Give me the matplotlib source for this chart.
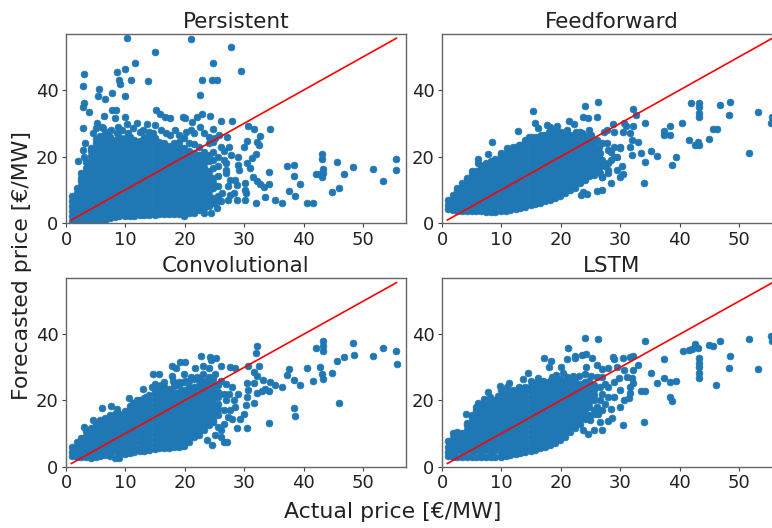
import numpy as np
import matplotlib
matplotlib.use('Agg')
import matplotlib.pyplot as plt

# linha de referencia y = x
line_x = [0.9, 55.6]
line_y = [0.9, 55.6]
x_ticks = [0, 10, 20, 30, 40, 50]
y_ticks = [0, 20, 40]
titles = ['Persistent', 'Feedforward', 'Convolutional', 'LSTM']

# miolo denso de cada painel, coluna a coluna
persistent_core_x = [1.0, 1.8, 2.6, 3.4, 4.2, 5.0, 5.8, 6.6, 7.4, 8.2, 9.0, 9.9, 10.7, 11.5, 12.4, 13.2, 14.0, 14.9, 15.7, 16.5, 17.4, 18.2, 19.0, 19.9, 20.7, 21.5, 22.3, 23.2, 24.0, 24.8, 25.6]
persistent_core_y = [
    [0.6, 2.0, 3.5, 5.0, 6.5, 8.0],
    [0.7, 1.5, 3.0, 4.5, 6.0, 7.5, 9.0, 10.5],
    [0.6, 2.2, 3.7, 5.2, 6.7, 8.2, 9.7, 11.2, 12.7, 13.5],
    [0.6, 1.5, 3.0, 4.5, 6.0, 7.5, 9.0, 10.5, 12.0, 13.5, 15.0, 16.5, 18.2],
    [0.7, 2.2, 3.7, 5.2, 6.7, 8.2, 9.7, 11.2, 12.7, 14.2, 15.7, 17.2, 18.7, 20.2, 21.7, 22.5],
    [0.7, 1.5, 3.0, 4.5, 6.0, 7.5, 9.0, 10.5, 12.0, 13.5, 15.0, 16.5, 18.0, 19.5, 21.0, 22.5, 24.0, 25.2],
    [0.8, 2.2, 3.7, 5.2, 6.7, 8.2, 9.7, 11.2, 12.7, 14.2, 15.7, 17.2, 18.7, 20.2, 21.7, 23.2, 24.7, 26.2],
    [0.8, 1.5, 3.0, 4.5, 6.0, 7.5, 9.0, 10.5, 12.0, 13.5, 15.0, 16.5, 18.0, 19.5, 21.0, 22.5, 24.0, 25.5, 26.8],
    [1.6, 2.2, 3.7, 5.2, 6.7, 8.2, 9.7, 11.2, 12.7, 14.2, 15.7, 17.2, 18.7, 20.2, 21.7, 23.2, 24.7, 26.0],
    [1.8, 3.0, 4.5, 6.0, 7.5, 9.0, 10.5, 12.0, 13.5, 15.0, 16.5, 18.0, 19.5, 21.0, 22.5, 24.0, 25.0],
    [2.0, 3.7, 5.2, 6.7, 8.2, 9.7, 11.2, 12.7, 14.2, 15.7, 17.2, 18.7, 20.2, 21.7, 23.2, 24.7, 26.0],
    [2.1, 3.0, 4.5, 6.0, 7.5, 9.0, 10.5, 12.0, 13.5, 15.0, 16.5, 18.0, 19.5, 21.0, 22.5, 24.0, 25.5],
    [2.2, 3.7, 5.2, 6.7, 8.2, 9.7, 11.2, 12.7, 14.2, 15.7, 17.2, 18.7, 20.2, 21.7, 23.2, 24.7, 26.0],
    [2.2, 3.0, 4.5, 6.0, 7.5, 9.0, 10.5, 12.0, 13.5, 15.0, 16.5, 18.0, 19.5, 21.0, 22.5, 24.0, 25.0],
    [2.4, 3.7, 5.2, 6.7, 8.2, 9.7, 11.2, 12.7, 14.2, 15.7, 17.2, 18.7, 20.2, 21.7, 23.2, 24.7],
    [2.5, 3.0, 4.5, 6.0, 7.5, 9.0, 10.5, 12.0, 13.5, 15.0, 16.5, 18.0, 19.5, 21.0, 22.5, 24.0, 25.8],
    [2.4, 3.7, 5.2, 6.7, 8.2, 9.7, 11.2, 12.7, 14.2, 15.7, 17.2, 18.7, 20.2, 21.7, 23.2, 24.7, 26.2],
    [2.5, 3.0, 4.5, 6.0, 7.5, 9.0, 10.5, 12.0, 13.5, 15.0, 16.5, 18.0, 19.5, 21.0, 22.5, 24.0, 25.5],
    [2.6, 3.7, 5.2, 6.7, 8.2, 9.7, 11.2, 12.7, 14.2, 15.7, 17.2, 18.7, 20.2, 21.7, 23.2, 24.5],
    [2.6, 3.0, 4.5, 6.0, 7.5, 9.0, 10.5, 12.0, 13.5, 15.0, 16.5, 18.0, 19.5, 21.0, 22.5, 24.0],
    [2.7, 3.7, 5.2, 6.7, 8.2, 9.7, 11.2, 12.7, 14.2, 15.7, 17.2, 18.7, 20.2, 21.7, 23.2],
    [2.6, 3.0, 4.5, 6.0, 7.5, 9.0, 10.5, 12.0, 13.5, 15.0, 16.5, 18.0, 19.5, 21.0, 22.5, 24.0],
    [2.6, 3.7, 5.2, 6.7, 8.2, 9.7, 11.2, 12.7, 14.2, 15.7, 17.2, 18.7, 20.2, 21.7, 23.2, 24.5],
    [2.2, 3.0, 4.5, 6.0, 7.5, 9.0, 10.5, 12.0, 13.5, 15.0, 16.5, 18.0, 19.5, 21.0, 22.5, 25.5],
    [3.0, 3.7, 5.2, 6.7, 8.2, 9.7, 11.2, 12.7, 14.2, 15.7, 17.2, 18.7, 20.2, 21.7, 24.2],
    [3.2, 4.5, 6.0, 7.5, 9.0, 10.5, 12.0, 13.5, 15.0, 16.5, 18.0, 19.5, 21.0, 23.8],
    [4.0, 5.2, 6.7, 8.2, 9.7, 11.2, 12.7, 14.2, 15.7, 17.2, 18.7, 20.5, 22.8],
    [4.5, 6.0, 7.5, 9.0, 10.5, 12.0, 13.5, 15.0, 16.5, 18.0, 19.5, 21.5],
    [5.2, 6.7, 8.2, 9.7, 11.2, 12.7, 14.2, 15.7, 18.7, 20.5, 24.0],
    [6.0, 7.5, 10.5, 12.0, 13.5, 16.5, 19.0, 21.5, 24.5],
    [6.7, 8.2, 11.2, 14.2, 17.0, 20.0],
]
# pontos soltos
persistent_x = [10.3, 21, 15, 27.7, 11.6, 24.8, 10, 8.5, 3, 29.5, 9, 10.9, 13.8, 22.8, 24.6, 25.4, 9.1, 2.8, 5.5, 5.3, 7.8, 10, 22.6, 6.5, 3, 2.9, 3.9, 7.8, 8.4, 15.2, 22.8, 24.2, 6.4, 15.8, 16.7, 17.5, 19.7, 20.1, 22, 26, 27.9, 21.2, 8.3, 9.9, 10.2, 13.6, 15, 12, 8.8, 2.9, 5.2, 6.3, 24.8, 30.7, 31.6, 34.3, 32.7, 27.1, 25.7, 30.5, 32.1, 30, 32.4, 27.5, 29, 32, 31.3, 26.5, 27.7, 30.5, 31, 28.9, 29.1, 27, 27, 27.6, 31.5, 32.1, 32.7, 33.3, 34.1, 34.1, 30.1, 28.8, 27.6, 30.1, 30.3, 30.1, 28.7, 32, 33.5, 35.2, 36.3, 37.5, 38.6, 39.3, 38.3, 38.4, 37.2, 40.5, 41.5, 42, 42.7, 43, 43.1, 43.3, 43.3, 43.1, 44.8, 45.6, 46, 46.7, 48.3, 51.7, 53.3, 55.6, 55.6, 21.5, 23.2, 24.4, 25.4,
                3.2, 4.5, 5, 6, 7, 7.6, 8.6, 9.5, 10.5, 11.2, 12.4, 13, 14, 14.6, 16, 16.8, 17.5, 18.4, 19, 20.2, 21, 21.6, 22.5, 23.3, 24, 25, 26, 26.5, 27, 27.3, 26.3, 26, 27.2, 28.2, 28.5, 2, 2.9, 2.5, 3.1]
persistent_y = [55.5, 55.3, 51.4, 53, 48.2, 48, 46.4, 45.3, 44.7, 45.7, 43, 43.1, 42.7, 42.9, 42.9, 42.9, 41.8, 41.1, 40.4, 38.2, 39.2, 38.1, 38.5, 37.2, 36.1, 35, 33.4, 34, 34, 33.9, 32.8, 32.3, 32.2, 32.8, 32, 31.5, 32, 31.5, 32, 30.6, 30.6, 30.3, 31.5, 31.8, 29.8, 29.8, 29.4, 30.2, 29, 28.6, 30, 28.5, 28.4, 29.2, 28.2, 28.4, 26.2, 25.8, 26.4, 24.8, 24.5, 23, 23.5, 23, 20, 20.8, 19.7, 21.8, 20.5, 18, 16.5, 17.5, 16, 18, 15, 13, 13.7, 12.7, 11.6, 10.9, 11.7, 15.2, 11.9, 11.4, 8.4, 9.9, 9.1, 6.9, 6.9, 5.9, 7.9, 6.9, 5.9, 9.5, 8.1, 11.7, 14.2, 17.5, 17, 5.9, 5.9, 14.7, 14.7, 20.7, 19.4, 16.1, 15, 13.9, 9.4, 18.3, 10.4, 14.7, 16.9, 16.3, 12.5, 19.2, 16, 2.9, 2.9, 2.9, 4.4,
                24, 27, 28.5, 28.8, 27.5, 28, 27, 28, 27, 28.5, 27.5, 28, 27.5, 27, 28, 27, 26.5, 28, 26.5, 27.5, 28, 27, 29, 27, 26, 25.5, 23, 19, 16, 11, 9, 6.5, 7, 9, 13, 18.5, 22, 15, 20]

feedforward_core_x = [1.0, 1.8, 2.6, 3.4, 4.2, 5.0, 5.8, 6.6, 7.4, 8.2, 9.0, 9.9, 10.7, 11.5, 12.4, 13.2, 14.0, 14.9, 15.7, 16.5, 17.4, 18.2, 19.0, 19.9, 20.7, 21.5, 22.3, 23.2, 24.0, 24.8, 25.6, 26.4]
feedforward_core_y = [
    [4.2, 5.5, 7.0],
    [3.8, 5.3, 6.8, 8.4],
    [3.6, 5.1, 6.6, 8.1, 9.6, 10.6],
    [3.6, 4.6, 6.1, 7.6, 9.1, 10.6, 12.0],
    [3.5, 5.1, 6.6, 8.1, 9.6, 11.1, 12.6, 13.4],
    [3.5, 4.4, 5.9, 7.4, 8.9, 10.4, 11.9, 13.4, 14.8],
    [3.5, 5.1, 6.6, 8.1, 9.6, 11.1, 12.6, 14.1, 15.6],
    [3.5, 4.4, 5.9, 7.4, 8.9, 10.4, 11.9, 13.4, 14.9, 16.4, 17.2],
    [3.4, 5.1, 6.6, 8.1, 9.6, 11.1, 12.6, 14.1, 15.6, 17.1, 18.0],
    [3.2, 4.4, 5.9, 7.4, 8.9, 10.4, 11.9, 13.4, 14.9, 16.4, 17.9, 18.6],
    [3.2, 5.1, 6.6, 8.1, 9.6, 11.1, 12.6, 14.1, 15.6, 17.1, 18.6, 19.4],
    [3.6, 4.4, 5.9, 7.4, 8.9, 10.4, 11.9, 13.4, 14.9, 16.4, 17.9, 19.4, 20.4],
    [3.7, 5.1, 6.6, 8.1, 9.6, 11.1, 12.6, 14.1, 15.6, 17.1, 18.6, 20.1, 21.2],
    [3.8, 5.0, 6.5, 8.0, 9.5, 11.0, 12.5, 14.0, 15.5, 17.0, 18.5, 20.0, 21.5, 22.2],
    [4.2, 5.6, 7.1, 8.6, 10.1, 11.6, 13.1, 14.6, 16.1, 17.6, 19.1, 20.6, 22.1, 23.0],
    [4.4, 5.9, 7.4, 8.9, 10.4, 11.9, 13.4, 14.9, 16.4, 17.9, 19.4, 20.9, 22.4, 23.5],
    [4.8, 6.1, 7.6, 9.1, 10.6, 12.1, 13.6, 15.1, 16.6, 18.1, 19.6, 21.1, 22.6, 24.0],
    [5.5, 6.9, 8.4, 9.9, 11.4, 12.9, 14.4, 15.9, 17.4, 18.9, 20.4, 21.9, 23.4, 24.9],
    [5.8, 7.3, 8.8, 10.3, 11.8, 13.3, 14.8, 16.3, 17.8, 19.3, 20.8, 22.3, 23.8, 25.3],
    [6.0, 7.6, 9.1, 10.6, 12.1, 13.6, 15.1, 16.6, 18.1, 19.6, 21.1, 22.6, 24.1, 25.8],
    [6.5, 8.0, 9.5, 11.0, 12.5, 14.0, 15.5, 17.0, 18.5, 20.0, 21.5, 23.0, 24.5, 26.2],
    [6.8, 8.3, 9.8, 11.3, 12.8, 14.3, 15.8, 17.3, 18.8, 20.3, 21.8, 23.3, 24.8, 26.3],
    [7.5, 9.0, 10.5, 12.0, 13.5, 15.0, 16.5, 18.0, 19.5, 21.0, 22.5, 24.0, 25.5, 27.0],
    [8.2, 9.7, 11.2, 12.7, 14.2, 15.7, 17.2, 18.7, 20.2, 21.7, 23.2, 24.7, 26.2],
    [9.0, 10.5, 12.0, 13.5, 15.0, 16.5, 18.0, 19.5, 21.0, 22.5, 24.0, 25.5, 27.0],
    [10.0, 11.4, 12.9, 14.4, 15.9, 17.4, 18.9, 20.4, 21.9, 23.4, 24.9, 26.4],
    [10.5, 12.0, 13.5, 15.0, 16.5, 18.0, 19.5, 21.0, 22.5, 24.0, 25.5, 26.8],
    [12.0, 13.4, 14.9, 16.4, 17.9, 19.4, 20.9, 22.4, 23.9, 25.4],
    [13.0, 14.5, 16.0, 17.5, 19.0, 20.5, 22.0, 23.5, 25.0, 26.3],
    [14.0, 15.6, 17.1, 18.6, 20.1, 21.6, 23.1, 24.6],
    [15.5, 17.0, 18.5, 20.0, 21.5, 23.0, 24.5],
    [16.5, 18.1, 19.6, 21.1, 22.8],
]
feedforward_x = [15.3, 26.3, 24.1, 32.2, 32.7, 26.1, 23.7, 24.5, 21.3, 15.7, 28.7, 30.6, 12.8, 17.6, 19.3, 18.2, 16.1, 14.6, 15.8, 17.2, 8.4, 7.7, 6, 6.1, 22.2, 23.3, 24.7, 27.2, 27.8, 28.9, 30.4, 30.9, 32.2, 31.7, 32, 32.9, 27.8, 28.9, 30, 31.7, 32, 33.5, 35.2, 36.2, 34.2, 34, 30.4, 30, 28.4, 26.9, 26.1, 24.4, 23.4, 23.7, 26.9, 27.9, 29.4, 30.3, 28, 29.4, 30, 28.9, 34.2, 37.3, 37.4, 38.3, 38.3, 38.7, 39.3, 40.4, 41.5, 41.9, 42.6, 43, 43.3, 43.3, 43.3, 43.3, 43.3, 44.9, 45.6, 46.2, 46.7, 48.2, 48.5, 51.7, 53.2, 55.4, 55.6,
                 5, 7, 10, 11, 12, 13, 14, 15.2, 16.6, 18, 19, 20, 21, 22.5, 23.5, 25, 26, 27, 28, 28.5, 27, 27.5, 28, 26.5, 28.5, 25.5, 26.5, 27]
feedforward_y = [33.6, 36.4, 35.2, 34.2, 32.6, 32, 31.8, 31.5, 30.8, 30, 29.8, 30.2, 27.7, 29.5, 29.2, 29, 28.5, 26, 26, 26.5, 24.3, 20.8, 19.2, 18, 29.8, 27.5, 28, 27.5, 28, 27.5, 27.5, 29.2, 29.2, 27, 25, 24.5, 24, 23, 23, 23, 20.5, 21.2, 21.7, 20.3, 18.3, 11.9, 14.7, 13.9, 12.1, 9.9, 9.7, 8.7, 8.4, 9.4, 13.9, 15.1, 16, 17, 18, 20, 22.5, 20, 30, 27.8, 26.5, 29.2, 26.5, 17.5, 20, 30.2, 24.9, 36, 23.4, 24.5, 23.6, 36, 35, 33, 31.8, 25.3, 28.4, 28.4, 35.4, 32.4, 36.4, 21, 33.4, 30.2, 32,
                 15.5, 17.5, 21, 22.5, 23, 23.5, 25, 26, 26.5, 27.5, 28, 27.5, 28, 27.5, 27, 26.5, 25, 24, 22, 21.5, 19, 17, 16, 21, 19, 14.5, 15, 13.9]

convolutional_core_x = [1.0, 1.8, 2.6, 3.4, 4.2, 5.0, 5.8, 6.6, 7.4, 8.2, 9.0, 9.9, 10.7, 11.5, 12.4, 13.2, 14.0, 14.9, 15.7, 16.5, 17.4, 18.2, 19.0, 19.9, 20.7, 21.5, 22.3, 23.2, 24.0, 24.8, 25.6]
convolutional_core_y = [
    [3.2, 4.5, 6.0],
    [3.0, 4.4, 5.9, 7.4],
    [2.8, 4.0, 5.5, 7.0, 8.5],
    [3.0, 4.7, 6.2, 7.7, 9.2, 10.6],
    [2.6, 4.0, 5.5, 7.0, 8.5, 10.0, 11.5],
    [3.0, 4.7, 6.2, 7.7, 9.2, 10.7, 12.2, 13.0],
    [3.2, 4.0, 5.5, 7.0, 8.5, 10.0, 11.5, 13.0, 14.0],
    [3.4, 4.7, 6.2, 7.7, 9.2, 10.7, 12.2, 13.7, 14.8],
    [3.2, 4.0, 5.5, 7.0, 8.5, 10.0, 11.5, 13.0, 14.5, 15.6],
    [2.6, 4.7, 6.2, 7.7, 9.2, 10.7, 12.2, 13.7, 15.2, 16.0],
    [2.6, 4.0, 5.5, 7.0, 8.5, 10.0, 11.5, 13.0, 14.5, 16.0],
    [3.8, 4.7, 6.2, 7.7, 9.2, 10.7, 12.2, 13.7, 15.2, 16.7],
    [4.2, 5.5, 7.0, 8.5, 10.0, 11.5, 13.0, 14.5, 16.0, 17.5, 18.2],
    [4.3, 6.0, 7.5, 9.0, 10.5, 12.0, 13.5, 15.0, 16.5, 18.0, 19.0],
    [4.6, 5.5, 7.0, 8.5, 10.0, 11.5, 13.0, 14.5, 16.0, 17.5, 19.0, 20.0],
    [4.8, 6.2, 7.7, 9.2, 10.7, 12.2, 13.7, 15.2, 16.7, 18.2, 19.7, 20.6],
    [5.0, 6.5, 8.0, 9.5, 11.0, 12.5, 14.0, 15.5, 17.0, 18.5, 20.0, 21.5],
    [5.3, 6.8, 8.3, 9.8, 11.3, 12.8, 14.3, 15.8, 17.3, 18.8, 20.3, 21.8, 23.2],
    [5.5, 7.0, 8.5, 10.0, 11.5, 13.0, 14.5, 16.0, 17.5, 19.0, 20.5, 22.0, 23.5],
    [5.7, 7.3, 8.8, 10.3, 11.8, 13.3, 14.8, 16.3, 17.8, 19.3, 20.8, 22.3, 24.0],
    [5.5, 7.0, 8.5, 10.0, 11.5, 13.0, 14.5, 16.0, 17.5, 19.0, 20.5, 22.0, 23.5],
    [5.8, 7.3, 8.8, 10.3, 11.8, 13.3, 14.8, 16.3, 17.8, 19.3, 20.8, 22.3, 24.2],
    [6.0, 7.5, 9.0, 10.5, 12.0, 13.5, 15.0, 16.5, 18.0, 19.5, 21.0, 22.5, 24.5],
    [6.2, 8.0, 9.5, 11.0, 12.5, 14.0, 15.5, 17.0, 18.5, 20.0, 21.5, 23.0, 25.5],
    [7.5, 9.0, 10.5, 12.0, 13.5, 15.0, 16.5, 18.0, 19.5, 21.0, 22.5, 24.0, 26.0],
    [9.0, 10.5, 12.0, 13.5, 15.0, 16.5, 18.0, 19.5, 21.0, 22.5, 24.0, 26.5],
    [9.5, 11.0, 12.5, 14.0, 15.5, 17.0, 18.5, 20.0, 21.5, 23.0, 24.5, 26.5],
    [11.0, 12.5, 14.0, 15.5, 17.0, 18.5, 20.0, 21.5, 23.0, 24.5, 26.0],
    [12.5, 14.5, 16.0, 17.5, 19.0, 20.5, 22.0, 23.5, 25.5],
    [14.0, 16.0, 17.5, 19.0, 20.5, 22.0, 23.5, 25.0, 26.5],
    [15.5, 17.5, 19.0, 21.0, 22.5, 24.5],
]
convolutional_x = [32.1, 32, 22.7, 24.2, 25.2, 24.4, 19.2, 20.1, 17.9, 18.5, 23.1, 21.7, 26, 27.6, 28.5, 30.7, 32.4, 24, 14.6, 15.7, 19.8, 17.8, 31.6, 32.1, 33.1, 34.3, 35.2, 36.3, 32.1, 33, 34.1, 33.5, 30.4, 31.6, 30.7, 30.4, 31.6, 30.2, 28.2, 27.6, 30, 29.2, 27.9, 28.7, 30.4, 34.1, 26.5, 27.1, 26.6, 24.6, 23.8, 26, 24.8, 13, 10.6, 6, 3, 4.6, 7.6, 8.5, 9.9, 11.3, 37.2, 37.5, 38.3, 39.3, 38.4, 38.6, 40.6, 41.5, 42, 42.7, 43, 43.2, 43.3, 43.3, 43.2, 44.8, 45.6, 46, 46.7, 48.2, 48.4, 51.7, 53.3, 55.6, 55.7,
                   12, 13.5, 14.5, 15, 16, 16.5, 18, 19, 20, 21, 22, 23, 24, 25, 26, 27, 28, 29, 26.5, 27, 27.5, 28.5, 26.5, 27.2, 25.5, 26, 25]
convolutional_y = [36.4, 34.2, 33.4, 33, 32.8, 32.2, 31.6, 31.6, 30.4, 29.9, 30.5, 29.7, 30.5, 30.2, 29.7, 30.5, 30.5, 29.7, 28, 28, 28, 27.4, 28.7, 27.4, 26.2, 25.6, 24.7, 23.9, 22.1, 22.7, 22.7, 23.4, 25.2, 25.2, 23.1, 21.1, 19.1, 18.6, 20.1, 17.1, 15.9, 14.3, 14.3, 11.6, 11.6, 13.2, 13, 7.3, 7.3, 6.5, 8, 11, 13.5, 23.4, 20.6, 17.6, 11.8, 14.2, 18.4, 17.3, 16.6, 19.3, 27.7, 29.4, 26.3, 24.7, 17.6, 15.2, 29.8, 25.8, 35.9, 30.2, 27.9, 38.1, 36.3, 35, 26.6, 28.2, 32, 19.2, 33, 37.4, 33.8, 33.4, 35.9, 34.8, 30.9,
                   20, 21, 24, 25, 24.5, 25.5, 26, 25.5, 26, 27, 27, 28, 27, 28, 26, 25, 24, 22, 22, 20, 22, 18, 17, 15, 12, 9, 9.5]

lstm_core_x = [1.0, 1.8, 2.6, 3.4, 4.2, 5.0, 5.8, 6.6, 7.4, 8.2, 9.0, 9.9, 10.7, 11.5, 12.4, 13.2, 14.0, 14.9, 15.7, 16.5, 17.4, 18.2, 19.0, 19.9, 20.7, 21.5, 22.3, 23.2, 24.0, 24.8, 25.6]
lstm_core_y = [
    [3.2, 4.5, 6.0, 7.8],
    [3.0, 4.2, 5.7, 7.2, 8.7, 10.2],
    [3.0, 5.0, 6.5, 8.0, 9.5, 10.4],
    [3.0, 4.2, 5.7, 7.2, 8.7, 10.2],
    [3.0, 5.0, 6.5, 8.0, 9.5, 11.0, 12.5, 13.2],
    [3.0, 4.2, 5.7, 7.2, 8.7, 10.2, 11.7, 13.2, 14.7, 15.6],
    [3.0, 5.0, 6.5, 8.0, 9.5, 11.0, 12.5, 14.0, 15.5, 17.0, 18.0],
    [3.0, 4.2, 5.7, 7.2, 8.7, 10.2, 11.7, 13.2, 14.7, 16.2, 17.7, 18.6],
    [3.0, 5.0, 6.5, 8.0, 9.5, 11.0, 12.5, 14.0, 15.5, 17.0, 18.5, 19.8],
    [3.0, 4.2, 5.7, 7.2, 8.7, 10.2, 11.7, 13.2, 14.7, 16.2, 17.7, 19.2],
    [3.0, 5.0, 6.5, 8.0, 9.5, 11.0, 12.5, 14.0, 15.5, 17.0, 18.5, 20.0],
    [3.0, 4.2, 5.7, 7.2, 8.7, 10.2, 11.7, 13.2, 14.7, 16.2, 17.7, 19.2, 20.7, 21.6],
    [3.2, 5.0, 6.5, 8.0, 9.5, 11.0, 12.5, 14.0, 15.5, 17.0, 18.5, 20.0, 21.5],
    [3.4, 4.4, 5.9, 7.4, 8.9, 10.4, 11.9, 13.4, 14.9, 16.4, 17.9, 19.4, 20.9, 22.0],
    [3.8, 5.0, 6.5, 8.0, 9.5, 11.0, 12.5, 14.0, 15.5, 17.0, 18.5, 20.0, 21.5, 22.6],
    [4.0, 5.4, 6.9, 8.4, 9.9, 11.4, 12.9, 14.4, 15.9, 17.4, 18.9, 20.4, 21.9, 23.0],
    [4.5, 6.0, 7.5, 9.0, 10.5, 12.0, 13.5, 15.0, 16.5, 18.0, 19.5, 21.0, 22.5, 24.0],
    [4.8, 6.3, 7.8, 9.3, 10.8, 12.3, 13.8, 15.3, 16.8, 18.3, 19.8, 21.3, 22.8, 24.4],
    [5.0, 6.5, 8.0, 9.5, 11.0, 12.5, 14.0, 15.5, 17.0, 18.5, 20.0, 21.5, 23.0, 24.8],
    [5.5, 7.0, 8.5, 10.0, 11.5, 13.0, 14.5, 16.0, 17.5, 19.0, 20.5, 22.0, 23.5, 25.2],
    [6.0, 7.5, 9.0, 10.5, 12.0, 13.5, 15.0, 16.5, 18.0, 19.5, 21.0, 22.5, 24.0, 25.6],
    [6.5, 8.0, 9.5, 11.0, 12.5, 14.0, 15.5, 17.0, 18.5, 20.0, 21.5, 23.0, 24.5, 26.0],
    [7.0, 8.5, 10.0, 11.5, 13.0, 14.5, 16.0, 17.5, 19.0, 20.5, 22.0, 23.5, 25.0, 26.6],
    [8.0, 9.5, 11.0, 12.5, 14.0, 15.5, 17.0, 18.5, 20.0, 21.5, 23.0, 24.5, 26.5],
    [9.0, 10.5, 12.0, 13.5, 15.0, 16.5, 18.0, 19.5, 21.0, 22.5, 24.0, 26.0],
    [10.5, 12.0, 13.5, 15.0, 16.5, 18.0, 19.5, 21.0, 22.5, 24.0, 25.5],
    [11.5, 13.0, 14.5, 16.0, 17.5, 19.0, 20.5, 22.0, 23.5, 25.0, 26.5],
    [13.0, 14.5, 16.0, 17.5, 19.0, 20.5, 22.0, 23.5, 25.0],
    [14.5, 16.0, 17.5, 19.0, 20.5, 22.0, 23.5, 25.5],
    [15.5, 18.0, 19.5, 21.0, 22.5, 24.0, 26.0],
    [17.0, 20.0, 21.5, 23.0, 24.5],
]
lstm_x = [24.1, 26.3, 34.2, 21.2, 23.5, 24.2, 22.3, 22.3, 25.3, 21, 17.2, 18.4, 20.1, 18, 24.2, 26.1, 27, 28.7, 28.9, 30.4, 31.7, 32.2, 32.9, 32.2, 28, 29.4, 14.5, 13.7, 16.2, 11.2, 9.8, 7.7, 6.1, 4, 7.1, 9.5, 10.9, 19.2, 20.4, 30.6, 31.1, 32, 31.7, 32.2, 28.9, 29.7, 30, 31.7, 31.4, 30, 30.6, 28.4, 28.9, 28.6, 27.9, 26.6, 26.9, 25.5, 24.6, 23.7, 24.9, 26.3, 30.4, 34, 33.5, 34.2, 35.2, 37.4, 37.3, 36.2, 38.3, 39.4, 38.3, 38.7, 40.5, 41.5, 42.1, 42.6, 43, 43.3, 43.3, 43.3, 43.3, 43.3, 44.9, 45.6, 46.7, 46.1, 48.2, 48.5, 51.6, 53.2, 55.4, 55.6,
          16, 17, 15, 18.5, 21, 22, 23, 24, 25, 26, 27, 27.5, 26.5, 27, 28, 27.5, 27, 26, 25.5, 26.5, 28, 8, 10, 12, 13, 11]
lstm_y = [39, 38.5, 38.1, 35.8, 33.8, 34, 33.4, 32.7, 32.8, 32.4, 32.7, 31.8, 30.2, 30, 30.2, 30.7, 29.4, 33, 32.4, 32.8, 33, 33.4, 30.7, 29.2, 29.9, 30, 28.2, 26.4, 26.7, 25.2, 24.4, 22.6, 19.1, 15.9, 20.4, 21.4, 22.1, 27.7, 28.2, 29.2, 27.2, 26.7, 24.1, 25.2, 25.7, 26.7, 23.1, 22.1, 20.6, 18.1, 20.1, 17.3, 21.1, 14.7, 13.8, 13.5, 11, 11, 9.7, 11, 14, 15.9, 12.6, 13.4, 22.9, 22.7, 28.2, 32.4, 26.7, 25.2, 25.6, 26, 21.1, 19.8, 34.8, 35.3, 35.6, 37.1, 35.7, 32.9, 31.2, 30, 28.2, 26.9, 36.8, 36.3, 37.8, 24.7, 29.9, 33.4, 38.5, 29.5, 39.6, 38.1,
          25.5, 26, 26, 27, 27, 27.5, 27.5, 28, 27.5, 27, 27, 25, 24, 22, 21, 19, 17, 18, 16, 20, 24, 21, 23, 23, 24, 24]

panels = [
    (persistent_core_x, persistent_core_y, persistent_x, persistent_y),
    (feedforward_core_x, feedforward_core_y, feedforward_x, feedforward_y),
    (convolutional_core_x, convolutional_core_y, convolutional_x, convolutional_y),
    (lstm_core_x, lstm_core_y, lstm_x, lstm_y),
]

W, H = 772, 528
fig = plt.figure(figsize=(W / 100, H / 100), dpi=100)

# caixas dos eixos em pixels (x0, topo, altura); a coluna direita passa da borda da imagem
caixas = [(66, 33.5, 189.5), (442, 33.5, 189.5), (66, 278, 188.5), (442, 278, 188.5)]
larg = 340

for i in range(4):
    core_x, core_y, solto_x, solto_y = panels[i]
    x0, topo, alt = caixas[i]
    ax = fig.add_axes([x0 / W, 1 - (topo + alt) / H, larg / W, alt / H])

    xs = list(solto_x)
    ys = list(solto_y)
    for cx, col in zip(core_x, core_y):
        xs += [cx] * len(col)
        ys += col

    ax.scatter(xs, ys, s=24, color='#1f77b4', edgecolors='#1f77b4', linewidths=0.5)
    ax.plot(line_x, line_y, color='red', lw=1.2)
    ax.set_xlim(0, 57.2)
    ax.set_ylim(0, 57)
    ax.set_xticks(x_ticks)
    ax.set_yticks(y_ticks)
    ax.tick_params(labelsize=13, length=3, width=0.8, color='#444444', labelcolor='#222222', pad=2.5)
    for s in ax.spines.values():
        s.set_color('#666666')
        s.set_linewidth(1.0)
    ax.set_title(titles[i], fontsize=15.5, color='#222222', pad=4)

fig.text(393 / W, 1 - 512 / H, 'Actual price [€/MW]', fontsize=15.8, color='#222222', ha='center', va='center')
fig.text(22 / W, 1 - 266 / H, 'Forecasted price [€/MW]', fontsize=15.8, color='#222222', ha='center', va='center', rotation=90)

fig.savefig('out.png', dpi=100)
